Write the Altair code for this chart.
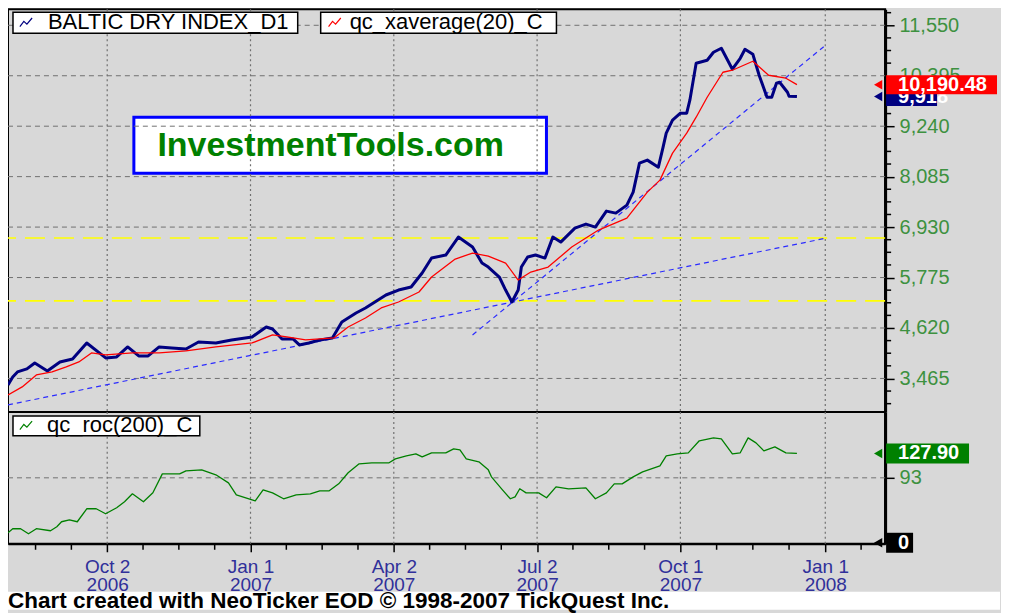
import altair as alt
import pandas as pd

FONT = "Liberation Sans, Arial, sans-serif"

# ---------------- data ----------------
BDI_DATES = ["2006-07-31", "2006-08-03", "2006-08-06", "2006-08-12", "2006-08-17", "2006-08-25",
             "2006-09-02", "2006-09-10", "2006-09-19", "2006-09-27", "2006-10-01", "2006-10-08",
             "2006-10-15", "2006-10-22", "2006-10-28", "2006-11-04", "2006-11-12", "2006-11-21",
             "2006-11-29", "2006-12-10", "2006-12-20", "2007-01-02", "2007-01-11", "2007-01-15",
             "2007-01-21", "2007-01-28", "2007-02-01", "2007-02-07", "2007-02-14", "2007-02-22",
             "2007-02-28", "2007-03-09", "2007-03-15", "2007-03-21", "2007-03-28", "2007-04-05",
             "2007-04-13", "2007-04-20", "2007-04-26", "2007-05-05", "2007-05-13", "2007-05-22",
             "2007-05-28", "2007-06-01", "2007-06-08", "2007-06-12", "2007-06-16", "2007-06-20",
             "2007-06-22", "2007-06-26", "2007-07-01", "2007-07-07", "2007-07-12", "2007-07-17",
             "2007-07-26", "2007-08-02", "2007-08-08", "2007-08-15", "2007-08-21", "2007-08-28",
             "2007-09-01", "2007-09-05", "2007-09-10", "2007-09-17", "2007-09-20", "2007-09-22",
             "2007-09-26", "2007-10-01", "2007-10-05", "2007-10-07", "2007-10-11", "2007-10-18",
             "2007-10-22", "2007-10-27", "2007-10-31", "2007-11-03", "2007-11-08", "2007-11-11",
             "2007-11-16", "2007-11-20", "2007-11-25", "2007-11-28", "2007-12-01", "2007-12-03",
             "2007-12-08", "2007-12-09", "2007-12-14"]
BDI_VALUES = [3317, 3500, 3614, 3683, 3820, 3637,
              3843, 3911, 4277, 4049, 3934, 3957,
              4186, 3980, 3980, 4186, 4163, 4140,
              4300, 4277, 4346, 4415, 4643, 4598,
              4369, 4369, 4232, 4277, 4346, 4392,
              4758, 4963, 5078, 5215, 5375, 5489,
              5558, 5878, 6221, 6290, 6702, 6473,
              6107, 6015, 5787, 5489, 5215, 5489,
              6015, 6244, 6290, 6221, 6702, 6587,
              6907, 6999, 6930, 7296, 7250, 7433,
              7731, 8394, 8463, 8302, 8760, 9080,
              9377, 9537, 9537, 9835, 10681, 10750,
              10933, 11024, 10750, 10544, 10795, 11001,
              10887, 10406, 9903, 9903, 10224, 10246,
              10018, 9926, 9918]

XAVG_DATES = ["2006-07-31", "2006-08-09", "2006-08-18", "2006-08-28", "2006-09-06", "2006-09-14",
              "2006-09-22", "2006-10-01", "2006-10-18", "2006-11-04", "2006-11-21", "2006-12-10",
              "2007-01-02", "2007-01-15", "2007-01-24", "2007-02-05", "2007-02-23", "2007-03-04",
              "2007-03-15", "2007-03-25", "2007-04-05", "2007-04-18", "2007-04-26", "2007-05-11",
              "2007-05-22", "2007-06-01", "2007-06-12", "2007-06-20", "2007-06-28", "2007-07-09",
              "2007-07-24", "2007-08-10", "2007-08-28", "2007-09-10", "2007-09-18", "2007-09-26",
              "2007-10-05", "2007-10-11", "2007-10-18", "2007-10-28", "2007-11-03", "2007-11-16",
              "2007-11-26", "2007-12-07", "2007-12-14"]
XAVG_VALUES = [3088, 3271, 3545, 3614, 3728, 3843,
               4049, 4003, 4049, 4049, 4094, 4186,
               4277, 4460, 4415, 4346, 4392, 4643,
               4849, 5078, 5215, 5444, 5787, 6198,
               6336, 6267, 6107, 5718, 5901, 6015,
               6473, 6862, 7136, 7731, 8005, 8623,
               9080, 9446, 9903, 10475, 10521, 10727,
               10406, 10338, 10190.48]

ROC_DATES = ["2006-07-31", "2006-08-03", "2006-08-08", "2006-08-13", "2006-08-18", "2006-08-27",
             "2006-08-31", "2006-09-03", "2006-09-08", "2006-09-13", "2006-09-19", "2006-09-25",
             "2006-10-01", "2006-10-08", "2006-10-13", "2006-10-18", "2006-10-25", "2006-10-31",
             "2006-11-06", "2006-11-17", "2006-11-21", "2006-12-01", "2006-12-10", "2006-12-18",
             "2006-12-23", "2006-12-31", "2007-01-04", "2007-01-09", "2007-01-15", "2007-01-22",
             "2007-01-30", "2007-02-08", "2007-02-14", "2007-02-20", "2007-02-26", "2007-03-04",
             "2007-03-11", "2007-03-19", "2007-03-30", "2007-04-03", "2007-04-10", "2007-04-16",
             "2007-04-20", "2007-04-26", "2007-05-05", "2007-05-10", "2007-05-14", "2007-05-18",
             "2007-05-26", "2007-06-01", "2007-06-03", "2007-06-10", "2007-06-15", "2007-06-18",
             "2007-06-21", "2007-06-25", "2007-07-03", "2007-07-08", "2007-07-14", "2007-07-22",
             "2007-08-02", "2007-08-08", "2007-08-15", "2007-08-20", "2007-08-25", "2007-09-01",
             "2007-09-07", "2007-09-18", "2007-09-22", "2007-09-29", "2007-10-06", "2007-10-13",
             "2007-10-22", "2007-10-27", "2007-11-03", "2007-11-08", "2007-11-13", "2007-11-18",
             "2007-11-23", "2007-11-30", "2007-12-07", "2007-12-14"]
ROC_VALUES = [14.3, 20.1, 20.1, 12.9, 20.1, 17.2,
              22.9, 30.1, 32.9, 30.1, 48.7, 48.7,
              41.5, 50.1, 58.7, 70.1, 58.7, 71.5,
              98.7, 98.7, 103.0, 104.4, 97.3, 85.8,
              68.7, 63.0, 60.1, 75.8, 71.5, 63.0,
              68.7, 70.1, 74.4, 74.4, 84.4, 100.2,
              113.0, 114.5, 114.5, 120.2, 124.5, 127.3,
              123.0, 128.8, 128.8, 134.5, 133.0, 120.2,
              115.9, 104.4, 94.4, 75.8, 63.0, 65.8,
              77.3, 71.5, 71.5, 64.4, 80.1, 77.3,
              78.7, 63.0, 71.5, 84.4, 84.4, 94.4,
              101.6, 110.2, 124.5, 127.3, 128.8, 146.0,
              150.2, 148.8, 127.3, 128.8, 150.2, 143.1,
              131.6, 137.4, 128.8, 127.9]

TREND_LONG_DATES = ["2006-07-31", "2008-01-02"]
TREND_LONG_VALUES = [2860, 6680]
TREND_SHORT_DATES = ["2007-05-22", "2007-12-31"]
TREND_SHORT_VALUES = [4460, 11060]
YELLOW_LEVELS = [6680, 5240]

Y_TICKS = [3465, 4620, 5775, 6930, 8085, 9240, 10395, 11550]
ROC_TICKS = [93]
X_TICK_DATES = ["2006-10-02", "2007-01-01", "2007-04-02", "2007-07-02", "2007-10-01", "2008-01-01"]

TOP_MARKER_VALUES = [9918, 10190.48]
TOP_MARKER_LABELS = ["9,918", "10,190.48"]
TOP_MARKER_COLORS = ["#000080", "#ff0000"]
BOT_MARKER_VALUES = [127.90, 0]
BOT_MARKER_LABELS = ["127.90", "0"]
BOT_MARKER_COLORS = ["#008000", "#000000"]

LEGEND_TOP = ["BALTIC DRY INDEX_D1", "qc_xaverage(20)_C"]
LEGEND_TOP_COLORS = ["#000080", "#ff0000"]
LEGEND_BOTTOM = "qc_roc(200)_C"
WATERMARK = "InvestmentTools.com"
FOOTER = "Chart created with NeoTicker EOD \u00a9 1998-2007 TickQuest Inc."

# ---------------- layout ----------------
W = 878
H_TOP = 403
H_BOT = 132
FOOT_H = 66
TOTAL_W = 993
X_START, X_END = "2006-07-31", "2008-02-08"
Y_DOMAIN = [2699, 11916]
ROC_DOMAIN = [-1.43, 187.4]

BG = "#d8d8d8"
GREEN_LBL = "#3d9140"
NAVY_LBL = "#30309a"
GRID = "#707070"
GLYPH = "M-1,0.7 L-0.35,-0.15 L0.15,0.3 L1,-0.7"


def dt(s):
    t = pd.Timestamp(s)
    return alt.DateTime(year=t.year, month=t.month, date=t.day, hours=t.hour)


xscale = alt.Scale(domain=[dt(X_START), dt(X_END)])
yscale = alt.Scale(domain=Y_DOMAIN, nice=False, zero=False)
rscale = alt.Scale(domain=ROC_DOMAIN, nice=False, zero=False)

# minor tick positions (quarter subdivisions)
majors = pd.to_datetime(X_TICK_DATES)
qstep = (majors[1] - majors[0]) / 4
x_minor = []
for k in (3, 2, 1):
    x_minor.append(majors[0] - qstep * k)
for i in range(len(majors) - 1):
    step = (majors[i + 1] - majors[i]) / 4
    for k in (1, 2, 3):
        x_minor.append(majors[i] + step * k)
x_minor.append(majors[-1] + qstep)
lo_d, hi_d = pd.Timestamp(X_START), pd.Timestamp(X_END)
x_minor = [t for t in x_minor if lo_d <= t <= hi_d]
x_major_dt = [dt(s) for s in X_TICK_DATES]

ystep = (Y_TICKS[1] - Y_TICKS[0]) / 4
y_minor = []
k = -10
while True:
    v = Y_TICKS[0] + k * ystep
    if v > Y_DOMAIN[1]:
        break
    if v >= Y_DOMAIN[0] and v not in Y_TICKS:
        y_minor.append(v)
    k += 1

# ---------------- axes ----------------
top_axis = alt.Axis(
    orient="right", values=Y_TICKS, format=",.0f", tickSize=9,
    tickColor="black", tickWidth=1.5, domainColor="black", domainWidth=3,
    labelColor=GREEN_LBL, labelFont=FONT, labelFontSize=20, labelPadding=5,
    labelOverlap=False, grid=False, title=None)

x_axis = alt.Axis(
    orient="bottom", values=x_major_dt,
    labelExpr="[timeFormat(datum.value, '%b %-d'), timeFormat(datum.value, '%Y')]",
    tickSize=8, tickColor="black", tickWidth=1.5, domainColor="black", domainWidth=2,
    labelColor=NAVY_LBL, labelFont=FONT, labelFontSize=19, labelLineHeight=18,
    labelPadding=6, labelOverlap=False, labelFlush=False, grid=False, title=None)

r_axis = alt.Axis(
    orient="right", values=ROC_TICKS, format=".0f", tickSize=9, tickColor="black", tickWidth=1.5,
    domainColor="black", domainWidth=3, labelColor=GREEN_LBL, labelFont=FONT,
    labelFontSize=20, labelPadding=5, grid=False, title=None)

AXES = {"top": (None, top_axis), "bot": (x_axis, r_axis)}

# ---------------- frames ----------------
bdi = pd.DataFrame({"d": pd.to_datetime(BDI_DATES), "v": BDI_VALUES})
xavg = pd.DataFrame({"d": pd.to_datetime(XAVG_DATES), "v": XAVG_VALUES})
roc = pd.DataFrame({"d": pd.to_datetime(ROC_DATES), "v": ROC_VALUES})
t1 = pd.DataFrame({"d": pd.to_datetime(TREND_LONG_DATES), "v": TREND_LONG_VALUES})
t2 = pd.DataFrame({"d": pd.to_datetime(TREND_SHORT_DATES), "v": TREND_SHORT_VALUES})
yel = pd.DataFrame({"v": YELLOW_LEVELS})
ygrid = pd.DataFrame({"v": Y_TICKS})
yminor = pd.DataFrame({"v": y_minor})
rgrid = pd.DataFrame({"v": ROC_TICKS})
xgrid = pd.DataFrame({"d": majors})
xminor = pd.DataFrame({"d": x_minor})
one = pd.DataFrame({"t": [""]})


def X(panel, field="d:T"):
    return alt.X(field, scale=xscale, axis=AXES[panel][0], title=None)


def Y(panel, field="v:Q"):
    sc = yscale if panel == "top" else rscale
    return alt.Y(field, scale=sc, axis=AXES[panel][1], title=None)


def vgrid_layer(panel):
    return alt.Chart(xgrid).mark_rule(color=GRID, strokeDash=[2, 3], strokeWidth=1.2).encode(x=X(panel))


def legend_box(x0, x1, y0, y1, glyph_x, text_x, yc, text, color):
    box = alt.Chart(one).mark_rect(fill="white", stroke="black", strokeWidth=1.5).encode(
        x=alt.value(x0), x2=alt.value(x1), y=alt.value(y0), y2=alt.value(y1))
    gl = alt.Chart(one).mark_point(shape=GLYPH, filled=False, stroke=color, strokeWidth=1.2,
                                   size=150, opacity=1).encode(x=alt.value(glyph_x), y=alt.value(yc))
    tx = alt.Chart(pd.DataFrame({"t": [text]})).mark_text(
        font=FONT, fontSize=22, color="black", align="left", baseline="middle").encode(
        x=alt.value(text_x), y=alt.value(yc), text="t:N")
    return [box, gl, tx]


def marker(panel, value, label, color, half_px, box_w):
    sc = yscale if panel == "top" else rscale
    dom = sc.domain
    h = H_TOP if panel == "top" else H_BOT
    unit = (dom[1] - dom[0]) / h
    df = pd.DataFrame({"v": [value], "lo": [value - half_px * unit], "hi": [value + half_px * unit],
                       "label": [label]})
    tri = alt.Chart(df).mark_point(shape="triangle-left", filled=True, size=90, color=color,
                                   opacity=1).encode(x=alt.value(W - 7), y=Y(panel))
    rect = alt.Chart(df).mark_rect(color=color).encode(
        x=alt.value(W + 1), x2=alt.value(W + 1 + box_w), y=Y(panel, "lo:Q"), y2=alt.Y2("hi:Q"))
    txt = alt.Chart(df).mark_text(font=FONT, fontSize=20, fontWeight="bold", color="white",
                                  align="left", baseline="middle").encode(
        x=alt.value(W + 13), y=Y(panel), text="label:N")
    return [tri, rect, txt]


# ---------------- top panel ----------------
wm_rect = alt.Chart(one).mark_rect(fill="white", stroke="#0000ff", strokeWidth=3).encode(
    x=alt.value(126), x2=alt.value(539), y=alt.value(108), y2=alt.value(164))
wm_text = alt.Chart(pd.DataFrame({"t": [WATERMARK]})).mark_text(
    font=FONT, fontSize=34, fontWeight="bold", color="#008000", align="center",
    baseline="middle").encode(x=alt.value(323), y=alt.value(137), text="t:N")

hgrid_top = alt.Chart(ygrid).mark_rule(color=GRID, strokeDash=[5, 4], strokeWidth=1).encode(y=Y("top"))
yminor_ticks = alt.Chart(yminor).mark_rule(color="black", strokeWidth=1.5).encode(
    x=alt.value(W), x2=alt.value(W + 6), y=Y("top"))
yellow = alt.Chart(yel).mark_rule(color="#ffff00", strokeDash=[20, 9], strokeWidth=1.6).encode(y=Y("top"))
trend1 = alt.Chart(t1).mark_line(color="#2b2bff", strokeDash=[5, 4], strokeWidth=1.2, clip=True,
                                 strokeJoin="round").encode(x=X("top"), y=Y("top"))
trend2 = alt.Chart(t2).mark_line(color="#2b2bff", strokeDash=[5, 4], strokeWidth=1.2, clip=True,
                                 strokeJoin="round").encode(x=X("top"), y=Y("top"))
blue_line = alt.Chart(bdi).mark_line(color="#000080", strokeWidth=3, clip=True,
                                     strokeJoin="round").encode(x=X("top"), y=Y("top"))
red_line = alt.Chart(xavg).mark_line(color="#ff0000", strokeWidth=1.3, clip=True,
                                     strokeJoin="round").encode(x=X("top"), y=Y("top"))

top_layers = [wm_rect, vgrid_layer("top"), hgrid_top, yminor_ticks, yellow, trend1, trend2,
              blue_line, red_line, wm_text]
top_layers += legend_box(5, 290, 3, 24, 18, 40, 13, LEGEND_TOP[0], LEGEND_TOP_COLORS[0])
top_layers += legend_box(313, 549, 3, 24, 327, 342, 13, LEGEND_TOP[1], LEGEND_TOP_COLORS[1])
for v, lab, col, bw in zip(TOP_MARKER_VALUES, TOP_MARKER_LABELS, TOP_MARKER_COLORS, [51, 111]):
    top_layers += marker("top", v, lab, col, 9.5, bw)

top = alt.layer(*top_layers).properties(
    width=W, height=H_TOP, view=alt.ViewBackground(stroke="black", strokeWidth=2, fill=BG))

# ---------------- bottom panel ----------------
hgrid_bot = alt.Chart(rgrid).mark_rule(color=GRID, strokeDash=[5, 4], strokeWidth=1).encode(y=Y("bot"))
xminor_ticks = alt.Chart(xminor).mark_rule(color="black", strokeWidth=1.5).encode(
    x=X("bot"), y=alt.value(H_BOT + 1), y2=alt.value(H_BOT + 6))
green_line = alt.Chart(roc).mark_line(color="#008000", strokeWidth=1.3, clip=True,
                                      strokeJoin="round").encode(x=X("bot"), y=Y("bot"))

bot_layers = [vgrid_layer("bot"), hgrid_bot, xminor_ticks, green_line]
bot_layers += legend_box(5, 192, 4, 24, 18, 39, 13.5, LEGEND_BOTTOM, "#008000")
for v, lab, col, bw in zip(BOT_MARKER_VALUES, BOT_MARKER_LABELS, BOT_MARKER_COLORS, [83, 27]):
    bot_layers += marker("bot", v, lab, col, 10, bw)

bottom = alt.layer(*bot_layers).properties(
    width=W, height=H_BOT, view=alt.ViewBackground(stroke="black", strokeWidth=2, fill=BG))

# ---------------- footer ----------------
foot_bg = alt.Chart(one).mark_rect(fill="white").encode(
    x=alt.value(0), x2=alt.value(TOTAL_W), y=alt.value(48), y2=alt.value(FOOT_H))
foot_txt = alt.Chart(pd.DataFrame({"t": [FOOTER]})).mark_text(
    font=FONT, fontSize=22.5, fontWeight="bold", color="black", align="left",
    baseline="alphabetic").encode(x=alt.value(0), y=alt.value(64), text="t:N")
footer = alt.layer(foot_bg, foot_txt).properties(
    width=TOTAL_W, height=FOOT_H, view=alt.ViewBackground(stroke="transparent"))

chart = alt.vconcat(top, bottom, footer, spacing=0, bounds="flush").properties(
    padding={"left": -2, "top": -1, "right": 0, "bottom": 0}).configure(background=BG)

chart.save("out.html", embed_options={"renderer": "svg", "actions": False})
